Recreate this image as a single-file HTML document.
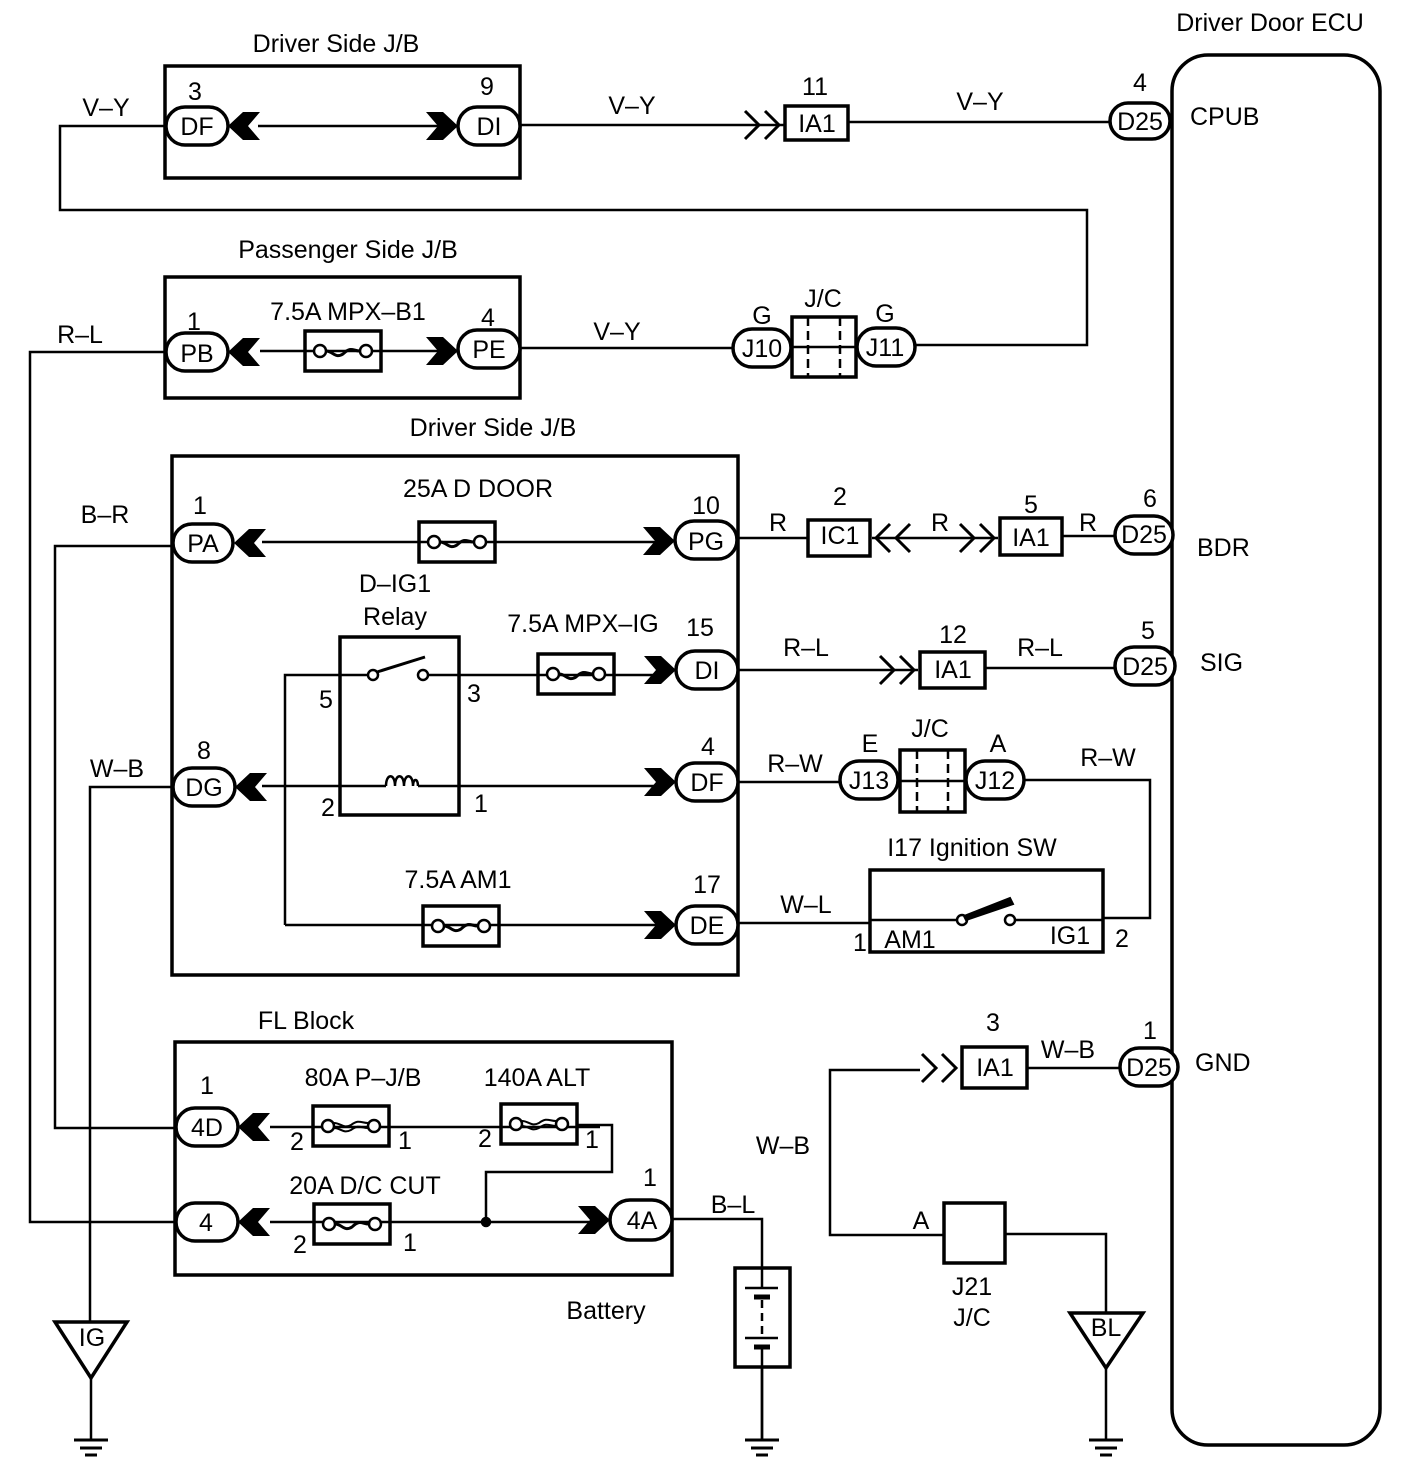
<!DOCTYPE html>
<html><head><meta charset="utf-8"><style>
html,body{margin:0;padding:0;background:#fff}
svg{display:block}
text{font-family:"Liberation Sans",sans-serif;font-size:25px;fill:#000;stroke:none}
.c{text-anchor:middle}
</style></head><body>
<svg width="1408" height="1466" viewBox="0 0 1408 1466" xmlns="http://www.w3.org/2000/svg">
<defs>
<g id="fl"><polygon points="0,0 15,-14 32,-14 20,0 32,14 15,14" fill="#000"/></g>
<g id="fr"><polygon points="0,0 -15,-14 -32,-14 -20,0 -32,14 -15,14" fill="#000"/></g>
<g id="or" fill="none" stroke="#000" stroke-width="3"><polyline points="-40,-14 -26,0 -40,14"/><polyline points="-20,-14 -6,0 -20,14"/></g>
<g id="ol" fill="none" stroke="#000" stroke-width="3"><polyline points="40,-14 26,0 40,14"/><polyline points="20,-14 6,0 20,14"/></g>
<g id="fuse" fill="none" stroke="#000"><rect x="-38" y="-20" width="76" height="40" stroke-width="3.5"/><circle cx="-23" cy="0" r="6" stroke-width="2.5" fill="#fff"/><circle cx="23" cy="0" r="6" stroke-width="2.5" fill="#fff"/><path d="M-17,0 C-10,0 -8,8 0,3 C8,-5 10,0 17,0" stroke-width="3"/></g>
<g id="bfuse" fill="none" stroke="#000"><rect x="-38" y="-20" width="76" height="40" stroke-width="3.5"/><circle cx="-23" cy="0" r="6" stroke-width="2.5" fill="#fff"/><circle cx="23" cy="0" r="6" stroke-width="2.5" fill="#fff"/><path d="M-17,2 C-10,2 -8,8 0,4 C8,-2 10,2 17,2 M-17,-3 C-10,-3 -8,3 0,-1 C8,-7 10,-3 17,-3" stroke-width="2"/></g>
<g id="gnd" stroke="#000" stroke-width="3"><line x1="-17" y1="0" x2="17" y2="0"/><line x1="-11" y1="8" x2="11" y2="8"/><line x1="-6" y1="15" x2="6" y2="15"/></g>
</defs>

<g fill="none" stroke="#000" stroke-width="2.5">
<rect x="1172" y="55" width="208" height="1390" rx="36" stroke-width="3.5"/>
<rect x="165" y="66" width="355" height="112" stroke-width="3.5"/>
<rect x="165" y="277" width="355" height="121" stroke-width="3.5"/>
<rect x="172" y="456" width="566" height="519" stroke-width="3.5"/>
<rect x="175" y="1042" width="497" height="233" stroke-width="3.5"/>
<polyline points="165,126 60,126 60,210 1087,210 1087,345 915,345"/>
<line x1="258" y1="126" x2="440" y2="126"/>
<line x1="520" y1="125" x2="785" y2="125"/>
<rect x="785" y="106" width="63" height="34" stroke-width="3.5"/>
<line x1="848" y1="122" x2="1110" y2="122"/>
<polyline points="165,352 30,352 30,1222 175,1222"/>
<line x1="260" y1="351" x2="458" y2="351"/>
<line x1="520" y1="348" x2="733" y2="348"/>
<rect x="792" y="317" width="64" height="60" stroke-width="3.5"/>
<line x1="792" y1="347" x2="856" y2="347"/>
<line x1="808" y1="317" x2="808" y2="377" stroke-dasharray="9,5"/>
<line x1="840" y1="317" x2="840" y2="377" stroke-dasharray="9,5"/>
<polyline points="172,546 55,546 55,1128 175,1128"/>
<line x1="262" y1="542" x2="660" y2="542"/>
<line x1="738" y1="538" x2="808" y2="538"/>
<rect x="808" y="520" width="62" height="36" stroke-width="3.5"/>
<line x1="872" y1="538" x2="998" y2="538"/>
<rect x="1000" y="518" width="62" height="37" stroke-width="3.5"/>
<line x1="1062" y1="536" x2="1115" y2="536"/>
<rect x="340" y="637" width="119" height="178" stroke-width="3.5"/>
<polyline points="285,925 285,675 368,675"/>
<circle cx="373" cy="675" r="5"/><circle cx="423" cy="675" r="5"/>
<line x1="377" y1="672" x2="425" y2="657" stroke-width="3"/>
<line x1="428" y1="675" x2="660" y2="675"/>
<line x1="738" y1="670" x2="918" y2="670"/>
<rect x="920" y="652" width="65" height="36" stroke-width="3.5"/>
<line x1="985" y1="668" x2="1115" y2="668"/>
<polyline points="172,787 90,787 90,1322"/>
<line x1="262" y1="786" x2="386" y2="786"/>
<path d="M386,786 c0,-13 9,-13 9,0 c0,-13 9,-13 9,0 c0,-13 9,-13 9,0 c0,-8 5,-8 5,0" stroke-width="2.5"/>
<line x1="418" y1="786" x2="660" y2="786"/>
<line x1="738" y1="782" x2="840" y2="782"/>
<rect x="900" y="750" width="65" height="62" stroke-width="3.5"/>
<line x1="900" y1="781" x2="965" y2="781"/>
<line x1="917" y1="750" x2="917" y2="812" stroke-dasharray="9,5"/>
<line x1="948" y1="750" x2="948" y2="812" stroke-dasharray="9,5"/>
<polyline points="1025,780 1150,780 1150,918 1103,918"/>
<line x1="285" y1="925" x2="660" y2="925"/>
<line x1="738" y1="923" x2="870" y2="923"/>
<rect x="870" y="870" width="233" height="82" stroke-width="3.5"/>
<line x1="870" y1="920" x2="957" y2="920"/>
<circle cx="962" cy="920" r="5"/><circle cx="1010" cy="920" r="5"/>
<polygon points="964,916 1010,898 1013,904 966,920" fill="#000" stroke-width="2"/>
<line x1="1015" y1="920" x2="1103" y2="920"/>
<line x1="270" y1="1127" x2="600" y2="1127"/>
<polyline points="577,1125 612,1125 612,1172 486,1172 486,1222"/>
<line x1="270" y1="1222" x2="595" y2="1222"/>
<circle cx="486" cy="1222" r="4" fill="#000"/>
<polyline points="672,1219 762,1219 762,1440"/>
<rect x="735" y="1268" width="55" height="99" fill="#fff" stroke-width="3.5"/>
<line x1="762" y1="1268" x2="762" y2="1288"/>
<line x1="745" y1="1288" x2="778" y2="1288"/>
<line x1="754" y1="1297" x2="770" y2="1297" stroke-width="5"/>
<line x1="762" y1="1300" x2="762" y2="1335" stroke-dasharray="8,5"/>
<line x1="745" y1="1338" x2="778" y2="1338"/>
<line x1="754" y1="1347" x2="770" y2="1347" stroke-width="5"/>
<line x1="762" y1="1347" x2="762" y2="1440"/>
<polygon points="55,1322 127,1322 91,1378" stroke-width="3.5"/>
<line x1="91" y1="1378" x2="91" y2="1440"/>
<polyline points="920,1070 830,1070 830,1235 944,1235"/>
<rect x="962" y="1047" width="65" height="41" stroke-width="3.5"/>
<line x1="1027" y1="1068" x2="1120" y2="1068"/>
<rect x="944" y="1203" width="61" height="60" stroke-width="3.5"/>
<polyline points="1005,1234 1106,1234 1106,1313"/>
<polygon points="1070,1313 1143,1313 1106,1368" stroke-width="3.5"/>
<line x1="1106" y1="1368" x2="1106" y2="1440"/>
</g>

<g fill="#fff" stroke="#000" stroke-width="3.5">
<rect x="166" y="107" width="62" height="38" rx="19"/>
<rect x="458" y="107" width="62" height="38" rx="19"/>
<rect x="1110" y="103" width="60" height="36" rx="18"/>
<rect x="166" y="333" width="62" height="38" rx="19"/>
<rect x="458" y="330" width="62" height="38" rx="19"/>
<rect x="733" y="329" width="58" height="38" rx="19"/>
<rect x="857" y="328" width="58" height="38" rx="19"/>
<rect x="173" y="524" width="60" height="38" rx="19"/>
<rect x="675" y="521" width="62" height="38" rx="19"/>
<rect x="1115" y="516" width="58" height="38" rx="19"/>
<rect x="676" y="651" width="62" height="38" rx="19"/>
<rect x="1115" y="647" width="60" height="38" rx="19"/>
<rect x="173" y="768" width="62" height="38" rx="19"/>
<rect x="676" y="763" width="62" height="38" rx="19"/>
<rect x="840" y="761" width="58" height="38" rx="19"/>
<rect x="966" y="761" width="58" height="38" rx="19"/>
<rect x="676" y="906" width="62" height="38" rx="19"/>
<rect x="1120" y="1048" width="58" height="38" rx="19"/>
<rect x="176" y="1108" width="62" height="38" rx="19"/>
<rect x="176" y="1203" width="62" height="38" rx="19"/>
<rect x="610" y="1200" width="62" height="40" rx="20"/>
</g>

<use href="#fl" x="228" y="126"/><use href="#fr" x="458" y="126"/>
<use href="#or" x="785" y="125"/>
<use href="#fl" x="228" y="352"/><use href="#fr" x="458" y="351"/>
<use href="#fl" x="234" y="543"/><use href="#fr" x="675" y="541"/>
<use href="#ol" x="870" y="538"/><use href="#or" x="1000" y="538"/>
<use href="#fr" x="676" y="670"/><use href="#or" x="920" y="670"/>
<use href="#fl" x="235" y="787"/><use href="#fr" x="676" y="782"/>
<use href="#fr" x="676" y="925"/>
<use href="#or" x="962" y="1068"/>
<use href="#fl" x="238" y="1127"/><use href="#fl" x="238" y="1222"/><use href="#fr" x="610" y="1220"/>
<use href="#fuse" x="343" y="351"/>
<use href="#fuse" x="457" y="542"/>
<use href="#fuse" x="576" y="674"/>
<use href="#fuse" x="461" y="926"/>
<use href="#bfuse" x="351" y="1126"/>
<use href="#bfuse" x="539" y="1124"/>
<use href="#fuse" x="352" y="1224"/>
<use href="#gnd" x="91" y="1440"/><use href="#gnd" x="762" y="1440"/><use href="#gnd" x="1106" y="1440"/>

<text x="1270" y="31" class="c">Driver Door ECU</text>
<text x="336" y="52" class="c">Driver Side J/B</text>
<text x="195" y="100" class="c">3</text><text x="487" y="95" class="c">9</text>
<text x="197" y="135" class="c">DF</text><text x="489" y="135" class="c">DI</text>
<text x="106" y="116" class="c">V–Y</text><text x="632" y="114" class="c">V–Y</text>
<text x="815" y="95" class="c">11</text><text x="817" y="132" class="c">IA1</text>
<text x="980" y="110" class="c">V–Y</text>
<text x="1140" y="91" class="c">4</text><text x="1140" y="130" class="c">D25</text>
<text x="1190" y="125">CPUB</text>
<text x="348" y="258" class="c">Passenger Side J/B</text>
<text x="80" y="343" class="c">R–L</text>
<text x="194" y="330" class="c">1</text><text x="197" y="362" class="c">PB</text>
<text x="348" y="320" class="c">7.5A MPX–B1</text>
<text x="488" y="326" class="c">4</text><text x="489" y="358" class="c">PE</text>
<text x="617" y="340" class="c">V–Y</text>
<text x="762" y="324" class="c">G</text><text x="762" y="357" class="c">J10</text>
<text x="823" y="307" class="c">J/C</text>
<text x="885" y="322" class="c">G</text><text x="885" y="356" class="c">J11</text>
<text x="493" y="436" class="c">Driver Side J/B</text>
<text x="105" y="523" class="c">B–R</text>
<text x="200" y="514" class="c">1</text><text x="203" y="552" class="c">PA</text>
<text x="478" y="497" class="c">25A D DOOR</text>
<text x="706" y="514" class="c">10</text><text x="706" y="550" class="c">PG</text>
<text x="778" y="531" class="c">R</text>
<text x="840" y="505" class="c">2</text><text x="840" y="544" class="c">IC1</text>
<text x="940" y="531" class="c">R</text>
<text x="1031" y="513" class="c">5</text><text x="1031" y="546" class="c">IA1</text>
<text x="1088" y="531" class="c">R</text>
<text x="1150" y="507" class="c">6</text><text x="1144" y="543" class="c">D25</text>
<text x="1197" y="556">BDR</text>
<text x="395" y="592" class="c">D–IG1</text><text x="395" y="625" class="c">Relay</text>
<text x="583" y="632" class="c">7.5A MPX–IG</text>
<text x="700" y="636" class="c">15</text><text x="707" y="679" class="c">DI</text>
<text x="326" y="708" class="c">5</text><text x="474" y="702" class="c">3</text>
<text x="806" y="656" class="c">R–L</text>
<text x="953" y="643" class="c">12</text><text x="953" y="678" class="c">IA1</text>
<text x="1040" y="656" class="c">R–L</text>
<text x="1148" y="639" class="c">5</text><text x="1145" y="675" class="c">D25</text>
<text x="1200" y="671">SIG</text>
<text x="117" y="777" class="c">W–B</text>
<text x="204" y="759" class="c">8</text><text x="204" y="796" class="c">DG</text>
<text x="328" y="816" class="c">2</text><text x="481" y="812" class="c">1</text>
<text x="708" y="755" class="c">4</text><text x="707" y="791" class="c">DF</text>
<text x="795" y="772" class="c">R–W</text>
<text x="870" y="752" class="c">E</text><text x="869" y="789" class="c">J13</text>
<text x="930" y="737" class="c">J/C</text>
<text x="998" y="752" class="c">A</text><text x="995" y="789" class="c">J12</text>
<text x="1108" y="766" class="c">R–W</text>
<text x="458" y="888" class="c">7.5A AM1</text>
<text x="707" y="893" class="c">17</text><text x="707" y="934" class="c">DE</text>
<text x="806" y="913" class="c">W–L</text>
<text x="972" y="856" class="c">I17 Ignition SW</text>
<text x="910" y="948" class="c">AM1</text><text x="1070" y="944" class="c">IG1</text>
<text x="860" y="951" class="c">1</text><text x="1122" y="947" class="c">2</text>
<text x="306" y="1029" class="c">FL Block</text>
<text x="207" y="1094" class="c">1</text><text x="207" y="1136" class="c">4D</text>
<text x="363" y="1086" class="c">80A P–J/B</text>
<text x="537" y="1086" class="c">140A ALT</text>
<text x="297" y="1150" class="c">2</text><text x="405" y="1149" class="c">1</text>
<text x="485" y="1147" class="c">2</text><text x="592" y="1148" class="c">1</text>
<text x="365" y="1194" class="c">20A D/C CUT</text>
<text x="206" y="1231" class="c">4</text>
<text x="300" y="1253" class="c">2</text><text x="410" y="1251" class="c">1</text>
<text x="650" y="1186" class="c">1</text><text x="642" y="1229" class="c">4A</text>
<text x="733" y="1213" class="c">B–L</text>
<text x="606" y="1319" class="c">Battery</text>
<text x="92" y="1346" class="c">IG</text>
<text x="993" y="1031" class="c">3</text><text x="995" y="1076" class="c">IA1</text>
<text x="1068" y="1058" class="c">W–B</text>
<text x="1150" y="1039" class="c">1</text><text x="1149" y="1076" class="c">D25</text>
<text x="1195" y="1071">GND</text>
<text x="783" y="1154" class="c">W–B</text>
<text x="921" y="1229" class="c">A</text>
<text x="972" y="1295" class="c">J21</text><text x="972" y="1326" class="c">J/C</text>
<text x="1106" y="1336" class="c">BL</text>
</svg>
</body></html>
